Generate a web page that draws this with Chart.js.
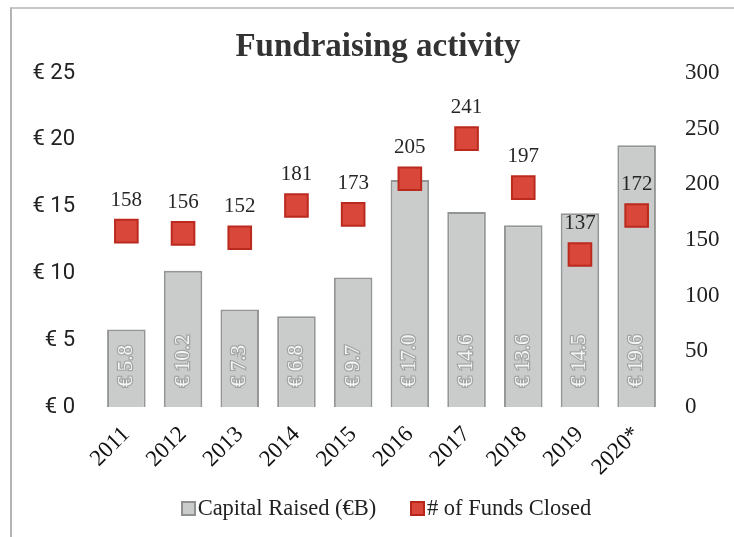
<!DOCTYPE html>
<html>
<head>
<meta charset="utf-8">
<script src="https://cdn.jsdelivr.net/npm/chart.js@4.4.1/dist/chart.umd.min.js"></script>
<style>
  html, body { margin: 0; padding: 0; background: #fff; }
  #wrap { position: relative; width: 734px; height: 537px; overflow: hidden; }
  #frame { position: absolute; left: 10px; top: 7px; right: -5px; bottom: -5px;
           border-left: 2px solid #b4b4b4; border-top: 2px solid #c8c8c8; }
  #legend { position: absolute; left: 0; width: 772px; top: 495px; text-align: center;
            font-family: "Liberation Serif", serif; font-size: 22.5px; color: #222; white-space: nowrap; }
  #legend span.box { display: inline-block; width: 15px; height: 15px; vertical-align: -1px; margin-right: 2px; box-sizing: border-box; }
  #legend span.item { margin: 0 14px; }
</style>
</head>
<body>
<div id="wrap">
  <div id="frame"></div>
  <canvas id="fundChart" width="734" height="537"></canvas>
  <div id="legend">
    <span class="item"><span class="box" style="background:#c9cccb;border:2px solid #8e9190"></span>Capital Raised (€B)</span>
    <span class="item"><span class="box" style="background:#d9473a;border:2px solid #b8261b"></span># of Funds Closed</span>
  </div>
</div>
<script>
var years = ['2011', '2012', '2013', '2014', '2015', '2016', '2017', '2018', '2019', '2020*'];
var capitalRaised = [5.8, 10.2, 7.3, 6.8, 9.7, 17.0, 14.6, 13.6, 14.5, 19.6];
var fundsClosed = [158, 156, 152, 181, 173, 205, 241, 197, 137, 172];

var serif = '"Liberation Serif", "DejaVu Serif", serif';

// title + value labels drawn on the canvas
var labelPlugin = {
  id: 'labelPlugin',
  afterDatasetsDraw: function (chart) {
    var ctx = chart.ctx;
    ctx.save();
    // bar labels, rotated, sitting at the bottom of each bar
    var barMeta = chart.getDatasetMeta(0);
    ctx.font = '21px ' + serif;
    ctx.textAlign = 'left';
    ctx.textBaseline = 'middle';
    barMeta.data.forEach(function (bar, i) {
      ctx.save();
      ctx.translate(bar.x, bar.base - 20);
      ctx.rotate(-Math.PI / 2);
      var txt = '€ ' + capitalRaised[i].toFixed(1);
      ctx.lineWidth = 2.5;
      ctx.strokeStyle = '#a3a6a5';
      ctx.strokeText(txt, 0, 0);
      ctx.fillStyle = '#f4f5f4';
      ctx.fillText(txt, 0, 0);
      ctx.restore();
    });
    // point labels above the markers
    var ptMeta = chart.getDatasetMeta(1);
    ctx.font = '21px ' + serif;
    ctx.textAlign = 'center';
    ctx.textBaseline = 'middle';
    ctx.fillStyle = '#262626';
    ptMeta.data.forEach(function (pt, i) {
      ctx.fillText(String(fundsClosed[i]), pt.x, pt.y - 31);
    });
    // title
    ctx.font = 'bold 33px ' + serif;
    ctx.fillStyle = '#333';
    ctx.textBaseline = 'alphabetic';
    ctx.fillText('Fundraising activity', 378, 56);
    ctx.restore();
  }
};

var ctxEl = document.getElementById('fundChart');
new Chart(ctxEl, {
  type: 'bar',
  data: {
    labels: years,
    datasets: [{
      label: 'Capital Raised (€B)',
      data: capitalRaised,
      backgroundColor: '#c9cccb',
      borderColor: '#939695',
      borderWidth: 2,
      categoryPercentage: 0.68,
      barPercentage: 1,
      yAxisID: 'y',
      order: 1
    }, {
      type: 'line',
      label: '# of Funds Closed',
      data: fundsClosed,
      showLine: false,
      pointStyle: 'rect',
      pointRadius: 16,
      pointHoverRadius: 16,
      pointBackgroundColor: '#d9473a',
      pointBorderColor: '#bb2a1e',
      pointBorderWidth: 2,
      yAxisID: 'y1',
      order: 0
    }]
  },
  options: {
    responsive: false,
    animation: false,
    layout: { padding: { top: 73, bottom: 50, left: 0, right: 0 } },
    plugins: {
      legend: { display: false },
      title: { display: false },
      tooltip: { enabled: false }
    },
    scales: {
      x: {
        grid: { display: false, drawTicks: false },
        border: { display: false },
        ticks: {
          color: '#111',
          font: { family: serif, size: 23 },
          maxRotation: 45,
          minRotation: 45,
          padding: 14
        },
        afterFit: function (s) { s.height = 80; }
      },
      y: {
        position: 'left',
        min: 0,
        max: 25,
        grid: { display: false, drawTicks: false },
        border: { display: false },
        ticks: {
          stepSize: 5,
          color: '#222',
          font: { family: 'Roboto, "Open Sans", sans-serif', size: 22 },
          padding: 23,
          callback: function (v) { return '€ ' + v; }
        },
        afterFit: function (s) { s.width = 98; }
      },
      y1: {
        position: 'right',
        min: 0,
        max: 300,
        grid: { display: false, drawTicks: false },
        border: { display: false },
        ticks: {
          stepSize: 50,
          color: '#222',
          font: { family: serif, size: 23 },
          padding: 20
        },
        afterFit: function (s) { s.width = 69; }
      }
    }
  },
  plugins: [labelPlugin]
});
</script>
</body>
</html>
